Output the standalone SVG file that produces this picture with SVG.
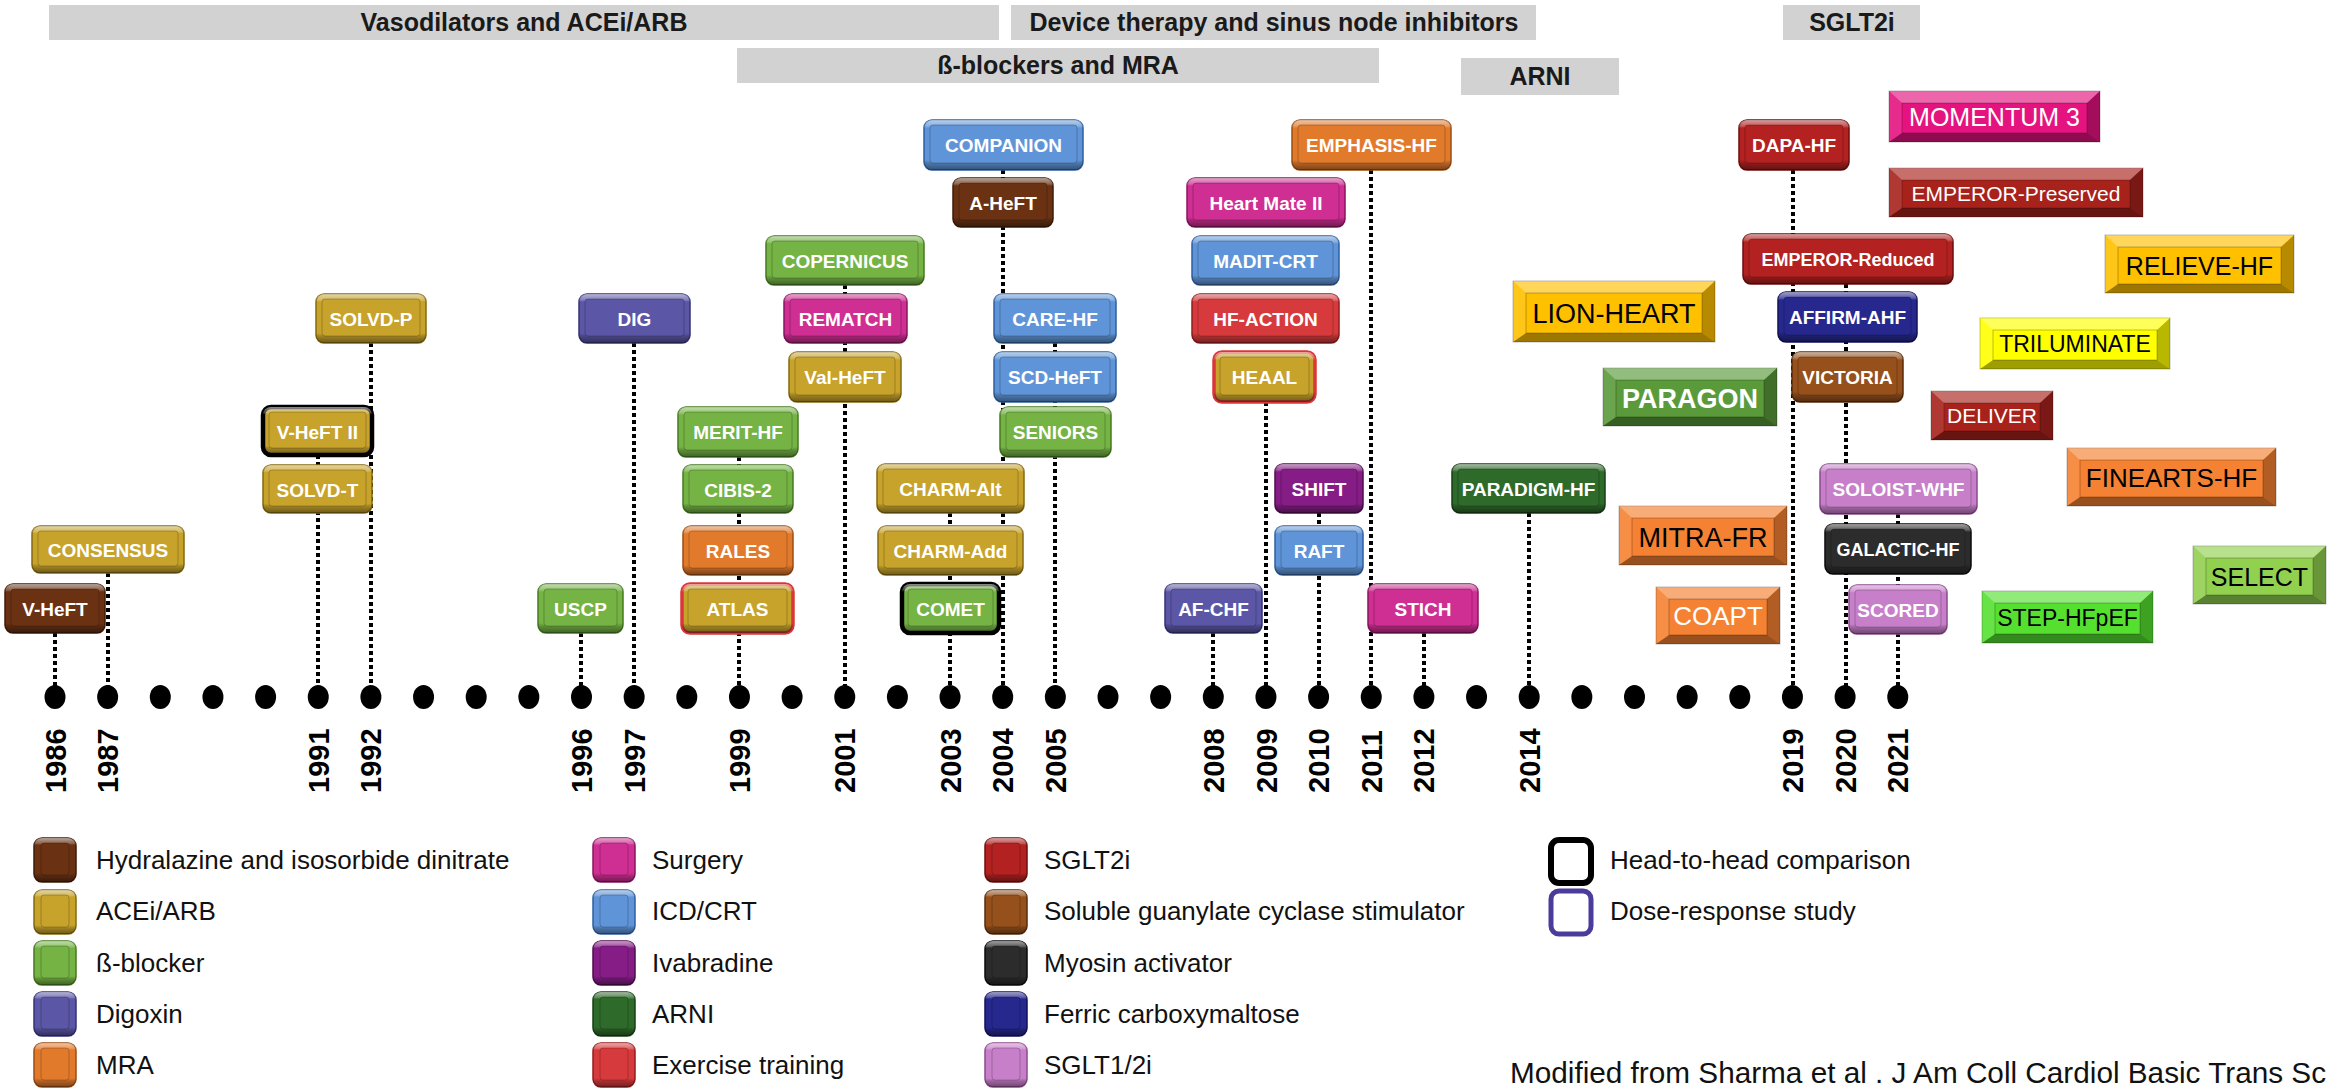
<svg xmlns="http://www.w3.org/2000/svg" xmlns:xlink="http://www.w3.org/1999/xlink" width="2330" height="1088" viewBox="0 0 2330 1088">
  <defs>
    <style>
      .hdr rect{fill:#d2d2d2}
      .hdr text{font:bold 25px "Liberation Sans",Arial,sans-serif;fill:#1a1a1a;text-anchor:middle}
      .conn line{stroke:#000;stroke-width:4;stroke-dasharray:4 3}
      .year{font:bold 29px "Liberation Sans",Arial,sans-serif;fill:#000}
      .hyd{--c:#6a3213;--d:#3f1c08}
      .ace{--c:#c7a32b;--d:#86690f}
      .bb{--c:#74b344;--d:#477a22}
      .dig{--c:#5b57a6;--d:#363279}
      .mra{--c:#e27a2c;--d:#9c4d12}
      .sur{--c:#cf2e93;--d:#8a1560}
      .icd{--c:#5f95d8;--d:#2f5f9e}
      .iva{--c:#861d86;--d:#4e0c4e}
      .arni{--c:#2e6a2a;--d:#173f15}
      .ex{--c:#d73a3c;--d:#951c1e}
      .sglt2{--c:#b32121;--d:#6e0e0e}
      .sgc{--c:#95501c;--d:#5a2d0b}
      .myo{--c:#2c2c2c;--d:#0a0a0a}
      .fcm{--c:#26288e;--d:#11125a}
      .sglt12{--c:#c77fc9;--d:#8b4b8d}
      .pill .o{fill:var(--c);stroke:var(--d);stroke-width:1.5}
      .pill .b{fill:url(#bev)}
      .pill .f{fill:var(--c);stroke:rgba(0,0,0,.22);stroke-width:1}
      .pill .o,.pill .b{rx:8px;ry:8px}
      .pill .f{rx:3px;ry:3px}
      .pill text{font:bold 19px "Liberation Sans",Arial,sans-serif;fill:#fff;text-anchor:middle}
      .pill.h2h .o{stroke:#000;stroke-width:4.5}
      .pill.rb .o{stroke:#d8383a;stroke-width:3.5}
      .sq .o{fill:var(--c);stroke:rgba(0,0,0,.25);stroke-width:1}
      .sq .t{fill:#fff;opacity:.35}
      .sq .l{fill:#fff;opacity:.1}
      .sq .r{fill:#000;opacity:.28}
      .sq .bt{fill:#000;opacity:.38}
      .sq .fc{fill:none;stroke:rgba(0,0,0,.25);stroke-width:1}
      .sq text{font:25px "Liberation Sans",Arial,sans-serif;fill:#000;text-anchor:middle}
      .sq.w text{fill:#fff}
      .lg text{font:26px "Liberation Sans",Arial,sans-serif;fill:#111}
      .cite{font:29px "Liberation Sans",Arial,sans-serif;fill:#111}
    </style>
    <linearGradient id="bev" x1="0" y1="0" x2="0" y2="1">
      <stop offset="0" stop-color="#fff" stop-opacity=".55"/>
      <stop offset=".12" stop-color="#fff" stop-opacity=".25"/>
      <stop offset=".16" stop-color="#fff" stop-opacity="0"/>
      <stop offset=".8" stop-color="#000" stop-opacity="0"/>
      <stop offset=".86" stop-color="#000" stop-opacity=".2"/>
      <stop offset="1" stop-color="#000" stop-opacity=".45"/>
    </linearGradient>
    <ellipse id="dot" cx="0" cy="697" rx="10.5" ry="12" fill="#000"/>
  </defs>

  <rect width="2330" height="1088" fill="#fff"/>

  <!-- therapy era bars -->
  <g id="eras" class="hdr">
    <rect x="49" y="5" width="950" height="35"/>
    <text x="524" y="31">Vasodilators and ACEi/ARB</text>
    <rect x="1011" y="5" width="525" height="35"/>
    <text x="1274" y="31">Device therapy and sinus node inhibitors</text>
    <rect x="737" y="48" width="642" height="35"/>
    <text x="1058" y="74">ß-blockers and MRA</text>
    <rect x="1461" y="58" width="158" height="37"/>
    <text x="1540" y="85">ARNI</text>
    <rect x="1783" y="5" width="137" height="35"/>
    <text x="1852" y="31">SGLT2i</text>
  </g>

  <!-- dotted year connectors -->
  <g id="connectors" class="conn">
    <line x1="55" y1="633" x2="55" y2="690"/>
    <line x1="108" y1="573" x2="108" y2="690"/>
    <line x1="318" y1="455" x2="318" y2="690"/>
    <line x1="371" y1="343" x2="371" y2="690"/>
    <line x1="581" y1="633" x2="581" y2="690"/>
    <line x1="634" y1="343" x2="634" y2="690"/>
    <line x1="739" y1="457" x2="739" y2="690"/>
    <line x1="845" y1="285" x2="845" y2="690"/>
    <line x1="950" y1="513" x2="950" y2="690"/>
    <line x1="1003" y1="170" x2="1003" y2="690"/>
    <line x1="1055" y1="343" x2="1055" y2="690"/>
    <line x1="1213" y1="633" x2="1213" y2="690"/>
    <line x1="1266" y1="402" x2="1266" y2="690"/>
    <line x1="1319" y1="513" x2="1319" y2="690"/>
    <line x1="1371" y1="170" x2="1371" y2="690"/>
    <line x1="1424" y1="633" x2="1424" y2="690"/>
    <line x1="1529" y1="513" x2="1529" y2="690"/>
    <line x1="1793" y1="170" x2="1793" y2="690"/>
    <line x1="1846" y1="284" x2="1846" y2="690"/>
    <line x1="1898" y1="514" x2="1898" y2="690"/>
  </g>

  <!-- timeline dots, one per year 1986-2021 -->
  <g id="timeline">
    <use href="#dot" x="55"/><use href="#dot" x="107.65"/><use href="#dot" x="160.3"/><use href="#dot" x="212.95"/>
    <use href="#dot" x="265.6"/><use href="#dot" x="318.25"/><use href="#dot" x="370.9"/><use href="#dot" x="423.55"/>
    <use href="#dot" x="476.2"/><use href="#dot" x="528.85"/><use href="#dot" x="581.5"/><use href="#dot" x="634.15"/>
    <use href="#dot" x="686.8"/><use href="#dot" x="739.45"/><use href="#dot" x="792.1"/><use href="#dot" x="844.75"/>
    <use href="#dot" x="897.4"/><use href="#dot" x="950.05"/><use href="#dot" x="1002.7"/><use href="#dot" x="1055.35"/>
    <use href="#dot" x="1108"/><use href="#dot" x="1160.65"/><use href="#dot" x="1213.3"/><use href="#dot" x="1265.95"/>
    <use href="#dot" x="1318.6"/><use href="#dot" x="1371.25"/><use href="#dot" x="1423.9"/><use href="#dot" x="1476.55"/>
    <use href="#dot" x="1529.2"/><use href="#dot" x="1581.85"/><use href="#dot" x="1634.5"/><use href="#dot" x="1687.15"/>
    <use href="#dot" x="1739.8"/><use href="#dot" x="1792.45"/><use href="#dot" x="1845.1"/><use href="#dot" x="1897.75"/>
  </g>

  <!-- year labels -->
  <g id="years" class="year">
    <text transform="translate(65.5,793) rotate(-90)">1986</text>
    <text transform="translate(118.2,793) rotate(-90)">1987</text>
    <text transform="translate(328.8,793) rotate(-90)">1991</text>
    <text transform="translate(381.4,793) rotate(-90)">1992</text>
    <text transform="translate(592,793) rotate(-90)">1996</text>
    <text transform="translate(644.7,793) rotate(-90)">1997</text>
    <text transform="translate(750,793) rotate(-90)">1999</text>
    <text transform="translate(855.3,793) rotate(-90)">2001</text>
    <text transform="translate(960.6,793) rotate(-90)">2003</text>
    <text transform="translate(1013.2,793) rotate(-90)">2004</text>
    <text transform="translate(1065.9,793) rotate(-90)">2005</text>
    <text transform="translate(1223.8,793) rotate(-90)">2008</text>
    <text transform="translate(1276.5,793) rotate(-90)">2009</text>
    <text transform="translate(1329.1,793) rotate(-90)">2010</text>
    <text transform="translate(1381.8,793) rotate(-90)">2011</text>
    <text transform="translate(1434.4,793) rotate(-90)">2012</text>
    <text transform="translate(1539.7,793) rotate(-90)">2014</text>
    <text transform="translate(1803,793) rotate(-90)">2019</text>
    <text transform="translate(1855.6,793) rotate(-90)">2020</text>
    <text transform="translate(1908.3,793) rotate(-90)">2021</text>
  </g>

  <!-- trial nodes: rounded bevel buttons -->
  <g id="n-vheft" class="pill hyd" transform="translate(5,584)"><rect class="o" width="100" height="49"/><rect class="b" width="100" height="49"/><rect class="f" x="6" y="5" width="88" height="37"/><text x="50" y="32">V-HeFT</text></g>
  <g id="n-consensus" class="pill ace" transform="translate(32,526)"><rect class="o" width="152" height="47"/><rect class="b" width="152" height="47"/><rect class="f" x="6" y="5" width="140" height="35"/><text x="76" y="31">CONSENSUS</text></g>
  <g id="n-vheft2" class="pill ace h2h" transform="translate(263,407)"><rect class="o" width="109" height="48"/><rect class="b" width="109" height="48"/><rect class="f" x="6" y="5" width="97" height="36"/><text x="54.5" y="31.5">V-HeFT II</text></g>
  <g id="n-solvdt" class="pill ace" transform="translate(263,465)"><rect class="o" width="109" height="48"/><rect class="b" width="109" height="48"/><rect class="f" x="6" y="5" width="97" height="36"/><text x="54.5" y="31.5">SOLVD-T</text></g>
  <g id="n-solvdp" class="pill ace" transform="translate(316,294)"><rect class="o" width="110" height="49"/><rect class="b" width="110" height="49"/><rect class="f" x="6" y="5" width="98" height="37"/><text x="55" y="32">SOLVD-P</text></g>
  <g id="n-uscp" class="pill bb" transform="translate(538,584)"><rect class="o" width="85" height="49"/><rect class="b" width="85" height="49"/><rect class="f" x="6" y="5" width="73" height="37"/><text x="42.5" y="32">USCP</text></g>
  <g id="n-dig" class="pill dig" transform="translate(579,294)"><rect class="o" width="111" height="49"/><rect class="b" width="111" height="49"/><rect class="f" x="6" y="5" width="99" height="37"/><text x="55.5" y="32">DIG</text></g>
  <g id="n-merit" class="pill bb" transform="translate(678,407)"><rect class="o" width="120" height="50"/><rect class="b" width="120" height="50"/><rect class="f" x="6" y="5" width="108" height="38"/><text x="60" y="32">MERIT-HF</text></g>
  <g id="n-cibis2" class="pill bb" transform="translate(683,465)"><rect class="o" width="110" height="48"/><rect class="b" width="110" height="48"/><rect class="f" x="6" y="5" width="98" height="36"/><text x="55" y="31.5">CIBIS-2</text></g>
  <g id="n-rales" class="pill mra" transform="translate(683,526)"><rect class="o" width="110" height="49"/><rect class="b" width="110" height="49"/><rect class="f" x="6" y="5" width="98" height="37"/><text x="55" y="32">RALES</text></g>
  <g id="n-atlas" class="pill ace rb" transform="translate(682,584)"><rect class="o" width="111" height="49"/><rect class="b" width="111" height="49"/><rect class="f" x="6" y="5" width="99" height="37"/><text x="55.5" y="32">ATLAS</text></g>
  <g id="n-copernicus" class="pill bb" transform="translate(766,236)"><rect class="o" width="158" height="49"/><rect class="b" width="158" height="49"/><rect class="f" x="6" y="5" width="146" height="37"/><text x="79" y="32">COPERNICUS</text></g>
  <g id="n-rematch" class="pill sur" transform="translate(784,294)"><rect class="o" width="123" height="49"/><rect class="b" width="123" height="49"/><rect class="f" x="6" y="5" width="111" height="37"/><text x="61.5" y="32">REMATCH</text></g>
  <g id="n-valheft" class="pill ace" transform="translate(789,352)"><rect class="o" width="112" height="50"/><rect class="b" width="112" height="50"/><rect class="f" x="6" y="5" width="100" height="38"/><text x="56" y="32">Val-HeFT</text></g>
  <g id="n-companion" class="pill icd" transform="translate(924,120)"><rect class="o" width="159" height="50"/><rect class="b" width="159" height="50"/><rect class="f" x="6" y="5" width="147" height="38"/><text x="79.5" y="32">COMPANION</text></g>
  <g id="n-aheft" class="pill hyd" transform="translate(953,178)"><rect class="o" width="100" height="49"/><rect class="b" width="100" height="49"/><rect class="f" x="6" y="5" width="88" height="37"/><text x="50" y="32">A-HeFT</text></g>
  <g id="n-carehf" class="pill icd" transform="translate(994,294)"><rect class="o" width="122" height="49"/><rect class="b" width="122" height="49"/><rect class="f" x="6" y="5" width="110" height="37"/><text x="61" y="32">CARE-HF</text></g>
  <g id="n-scdheft" class="pill icd" transform="translate(994,352)"><rect class="o" width="122" height="50"/><rect class="b" width="122" height="50"/><rect class="f" x="6" y="5" width="110" height="38"/><text x="61" y="32">SCD-HeFT</text></g>
  <g id="n-seniors" class="pill bb" transform="translate(1000,407)"><rect class="o" width="111" height="50"/><rect class="b" width="111" height="50"/><rect class="f" x="6" y="5" width="99" height="38"/><text x="55.5" y="32">SENIORS</text></g>
  <g id="n-charmalt" class="pill ace" transform="translate(877,464)"><rect class="o" width="147" height="49"/><rect class="b" width="147" height="49"/><rect class="f" x="6" y="5" width="135" height="37"/><text x="73.5" y="32">CHARM-Alt</text></g>
  <g id="n-charmadd" class="pill ace" transform="translate(878,526)"><rect class="o" width="145" height="49"/><rect class="b" width="145" height="49"/><rect class="f" x="6" y="5" width="133" height="37"/><text x="72.5" y="32">CHARM-Add</text></g>
  <g id="n-comet" class="pill bb h2h" transform="translate(902,584)"><rect class="o" width="97" height="49"/><rect class="b" width="97" height="49"/><rect class="f" x="6" y="5" width="85" height="37"/><text x="48.5" y="32">COMET</text></g>
  <g id="n-afchf" class="pill dig" transform="translate(1165,584)"><rect class="o" width="97" height="49"/><rect class="b" width="97" height="49"/><rect class="f" x="6" y="5" width="85" height="37"/><text x="48.5" y="32">AF-CHF</text></g>
  <g id="n-heartmate" class="pill sur" transform="translate(1187,178)"><rect class="o" width="158" height="49"/><rect class="b" width="158" height="49"/><rect class="f" x="6" y="5" width="146" height="37"/><text x="79" y="32">Heart Mate II</text></g>
  <g id="n-maditcrt" class="pill icd" transform="translate(1192,236)"><rect class="o" width="147" height="49"/><rect class="b" width="147" height="49"/><rect class="f" x="6" y="5" width="135" height="37"/><text x="73.5" y="32">MADIT-CRT</text></g>
  <g id="n-hfaction" class="pill ex" transform="translate(1192,294)"><rect class="o" width="147" height="49"/><rect class="b" width="147" height="49"/><rect class="f" x="6" y="5" width="135" height="37"/><text x="73.5" y="32">HF-ACTION</text></g>
  <g id="n-heaal" class="pill ace rb" transform="translate(1214,352)"><rect class="o" width="101" height="50"/><rect class="b" width="101" height="50"/><rect class="f" x="6" y="5" width="89" height="38"/><text x="50.5" y="32">HEAAL</text></g>
  <g id="n-emphasis" class="pill mra" transform="translate(1292,120)"><rect class="o" width="159" height="50"/><rect class="b" width="159" height="50"/><rect class="f" x="6" y="5" width="147" height="38"/><text x="79.5" y="32">EMPHASIS-HF</text></g>
  <g id="n-shift" class="pill iva" transform="translate(1275,464)"><rect class="o" width="88" height="49"/><rect class="b" width="88" height="49"/><rect class="f" x="6" y="5" width="76" height="37"/><text x="44" y="32">SHIFT</text></g>
  <g id="n-raft" class="pill icd" transform="translate(1275,526)"><rect class="o" width="88" height="49"/><rect class="b" width="88" height="49"/><rect class="f" x="6" y="5" width="76" height="37"/><text x="44" y="32">RAFT</text></g>
  <g id="n-stich" class="pill sur" transform="translate(1368,584)"><rect class="o" width="110" height="49"/><rect class="b" width="110" height="49"/><rect class="f" x="6" y="5" width="98" height="37"/><text x="55" y="32">STICH</text></g>
  <g id="n-paradigm" class="pill arni" transform="translate(1452,464)"><rect class="o" width="153" height="49"/><rect class="b" width="153" height="49"/><rect class="f" x="6" y="5" width="141" height="37"/><text x="76.5" y="32">PARADIGM-HF</text></g>
  <g id="n-dapahf" class="pill sglt2" transform="translate(1739,120)"><rect class="o" width="110" height="50"/><rect class="b" width="110" height="50"/><rect class="f" x="6" y="5" width="98" height="38"/><text x="55" y="32">DAPA-HF</text></g>
  <g id="n-emperor-r" class="pill sglt2" transform="translate(1743,234)"><rect class="o" width="210" height="50"/><rect class="b" width="210" height="50"/><rect class="f" x="6" y="5" width="198" height="38"/><text x="105" y="32" style="font-size:18px">EMPEROR-Reduced</text></g>
  <g id="n-affirm" class="pill fcm" transform="translate(1778,292)"><rect class="o" width="139" height="50"/><rect class="b" width="139" height="50"/><rect class="f" x="6" y="5" width="127" height="38"/><text x="69.5" y="32">AFFIRM-AHF</text></g>
  <g id="n-victoria" class="pill sgc" transform="translate(1792,352)"><rect class="o" width="111" height="50"/><rect class="b" width="111" height="50"/><rect class="f" x="6" y="5" width="99" height="38"/><text x="55.5" y="32">VICTORIA</text></g>
  <g id="n-soloist" class="pill sglt12" transform="translate(1820,464)"><rect class="o" width="157" height="50"/><rect class="b" width="157" height="50"/><rect class="f" x="6" y="5" width="145" height="38"/><text x="78.5" y="32">SOLOIST-WHF</text></g>
  <g id="n-galactic" class="pill myo" transform="translate(1825,524)"><rect class="o" width="146" height="50"/><rect class="b" width="146" height="50"/><rect class="f" x="6" y="5" width="134" height="38"/><text x="73" y="32" style="font-size:18px">GALACTIC-HF</text></g>
  <g id="n-scored" class="pill sglt12" transform="translate(1849,585)"><rect class="o" width="98" height="49"/><rect class="b" width="98" height="49"/><rect class="f" x="6" y="5" width="86" height="37"/><text x="49" y="32">SCORED</text></g>

  <!-- trial nodes: square bevel frames (top/left lit, right/bottom shaded) -->
  <g id="n-momentum3" class="sq w" style="--c:#e4137f" transform="translate(1889,91)"><rect class="o" width="211" height="51"/><path class="t" d="M0 0h211l-13 12H13z"/><path class="bt" d="M0 51l13-9H198l13 9z"/><path class="l" d="M0 0l13 12V42L0 51z"/><path class="r" d="M211 0v51l-13-9V12z"/><rect class="fc" x="13" y="12" width="185" height="30"/><text x="105.5" y="35">MOMENTUM 3</text></g>
  <g id="n-emperor-p" class="sq w" style="--c:#a8221c" transform="translate(1889,168)"><rect class="o" width="254" height="49"/><path class="t" d="M0 0h254l-13 12H13z"/><path class="bt" d="M0 49l13-9H241l13 9z"/><path class="l" d="M0 0l13 12V40L0 49z"/><path class="r" d="M254 0v49l-13-9V12z"/><rect class="fc" x="13" y="12" width="228" height="28"/><text x="127" y="33" style="font-size:21px">EMPEROR-Preserved</text></g>
  <g id="n-relieve" class="sq" style="--c:#ffc000" transform="translate(2105,235)"><rect class="o" width="189" height="58"/><path class="t" d="M0 0h189l-13 12H13z"/><path class="bt" d="M0 58l13-9H176l13 9z"/><path class="l" d="M0 0l13 12V49L0 58z"/><path class="r" d="M189 0v58l-13-9V12z"/><rect class="fc" x="13" y="12" width="163" height="37"/><text x="94.5" y="40">RELIEVE-HF</text></g>
  <g id="n-lionheart" class="sq" style="--c:#ffc000" transform="translate(1513,281)"><rect class="o" width="202" height="61"/><path class="t" d="M0 0h202l-13 12H13z"/><path class="bt" d="M0 61l13-9H189l13 9z"/><path class="l" d="M0 0l13 12V52L0 61z"/><path class="r" d="M202 0v61l-13-9V12z"/><rect class="fc" x="13" y="12" width="176" height="40"/><text x="101" y="42" style="font-size:27px">LION-HEART</text></g>
  <g id="n-triluminate" class="sq" style="--c:#ffff00" transform="translate(1980,318)"><rect class="o" width="190" height="51"/><path class="t" d="M0 0h190l-13 12H13z"/><path class="bt" d="M0 51l13-9H177l13 9z"/><path class="l" d="M0 0l13 12V42L0 51z"/><path class="r" d="M190 0v51l-13-9V12z"/><rect class="fc" x="13" y="12" width="164" height="30"/><text x="95" y="34" style="font-size:23px">TRILUMINATE</text></g>
  <g id="n-paragon" class="sq w" style="--c:#5a9a3a" transform="translate(1603,368)"><rect class="o" width="174" height="58"/><path class="t" d="M0 0h174l-13 12H13z"/><path class="bt" d="M0 58l13-9H161l13 9z"/><path class="l" d="M0 0l13 12V49L0 58z"/><path class="r" d="M174 0v58l-13-9V12z"/><rect class="fc" x="13" y="12" width="148" height="37"/><text x="87" y="40" style="font-size:27px;font-weight:bold">PARAGON</text></g>
  <g id="n-deliver" class="sq w" style="--c:#a8221c" transform="translate(1931,391)"><rect class="o" width="122" height="49"/><path class="t" d="M0 0h122l-13 12H13z"/><path class="bt" d="M0 49l13-9H109l13 9z"/><path class="l" d="M0 0l13 12V40L0 49z"/><path class="r" d="M122 0v49l-13-9V12z"/><rect class="fc" x="13" y="12" width="96" height="28"/><text x="61" y="32" style="font-size:21px">DELIVER</text></g>
  <g id="n-finearts" class="sq" style="--c:#f58232" transform="translate(2067,448)"><rect class="o" width="209" height="58"/><path class="t" d="M0 0h209l-13 12H13z"/><path class="bt" d="M0 58l13-9H196l13 9z"/><path class="l" d="M0 0l13 12V49L0 58z"/><path class="r" d="M209 0v58l-13-9V12z"/><rect class="fc" x="13" y="12" width="183" height="37"/><text x="104.5" y="39" style="font-size:26px">FINEARTS-HF</text></g>
  <g id="n-mitrafr" class="sq" style="--c:#f58232" transform="translate(1619,506)"><rect class="o" width="168" height="59"/><path class="t" d="M0 0h168l-13 12H13z"/><path class="bt" d="M0 59l13-9H155l13 9z"/><path class="l" d="M0 0l13 12V50L0 59z"/><path class="r" d="M168 0v59l-13-9V12z"/><rect class="fc" x="13" y="12" width="142" height="38"/><text x="84" y="41" style="font-size:27px">MITRA-FR</text></g>
  <g id="n-coapt" class="sq w" style="--c:#f58232" transform="translate(1656,587)"><rect class="o" width="124" height="57"/><path class="t" d="M0 0h124l-13 12H13z"/><path class="bt" d="M0 57l13-9H111l13 9z"/><path class="l" d="M0 0l13 12V48L0 57z"/><path class="r" d="M124 0v57l-13-9V12z"/><rect class="fc" x="13" y="12" width="98" height="36"/><text x="62" y="38" style="font-size:26px">COAPT</text></g>
  <g id="n-select" class="sq" style="--c:#92d050" transform="translate(2193,546)"><rect class="o" width="133" height="58"/><path class="t" d="M0 0h133l-13 12H13z"/><path class="bt" d="M0 58l13-9H120l13 9z"/><path class="l" d="M0 0l13 12V49L0 58z"/><path class="r" d="M133 0v58l-13-9V12z"/><rect class="fc" x="13" y="12" width="107" height="37"/><text x="66.5" y="40">SELECT</text></g>
  <g id="n-stephfpef" class="sq" style="--c:#55e030" transform="translate(1982,591)"><rect class="o" width="171" height="52"/><path class="t" d="M0 0h171l-13 12H13z"/><path class="bt" d="M0 52l13-9H158l13 9z"/><path class="l" d="M0 0l13 12V43L0 52z"/><path class="r" d="M171 0v52l-13-9V12z"/><rect class="fc" x="13" y="12" width="145" height="31"/><text x="85.5" y="35" style="font-size:23px">STEP-HFpEF</text></g>

  <!-- legend -->
  <g id="legend" class="lg">
    <g class="pill hyd" transform="translate(34,838)"><rect class="o" width="42" height="44"/><rect class="b" width="42" height="44"/><rect class="f" x="7" y="5" width="28" height="32"/></g>
    <text x="96" y="869">Hydralazine and isosorbide dinitrate</text>
    <g class="pill ace" transform="translate(34,890)"><rect class="o" width="42" height="44"/><rect class="b" width="42" height="44"/><rect class="f" x="7" y="5" width="28" height="32"/></g>
    <text x="96" y="920">ACEi/ARB</text>
    <g class="pill bb" transform="translate(34,941)"><rect class="o" width="42" height="44"/><rect class="b" width="42" height="44"/><rect class="f" x="7" y="5" width="28" height="32"/></g>
    <text x="96" y="972">ß-blocker</text>
    <g class="pill dig" transform="translate(34,992)"><rect class="o" width="42" height="44"/><rect class="b" width="42" height="44"/><rect class="f" x="7" y="5" width="28" height="32"/></g>
    <text x="96" y="1023">Digoxin</text>
    <g class="pill mra" transform="translate(34,1043)"><rect class="o" width="42" height="44"/><rect class="b" width="42" height="44"/><rect class="f" x="7" y="5" width="28" height="32"/></g>
    <text x="96" y="1074">MRA</text>

    <g class="pill sur" transform="translate(593,838)"><rect class="o" width="42" height="44"/><rect class="b" width="42" height="44"/><rect class="f" x="7" y="5" width="28" height="32"/></g>
    <text x="652" y="869">Surgery</text>
    <g class="pill icd" transform="translate(593,890)"><rect class="o" width="42" height="44"/><rect class="b" width="42" height="44"/><rect class="f" x="7" y="5" width="28" height="32"/></g>
    <text x="652" y="920">ICD/CRT</text>
    <g class="pill iva" transform="translate(593,941)"><rect class="o" width="42" height="44"/><rect class="b" width="42" height="44"/><rect class="f" x="7" y="5" width="28" height="32"/></g>
    <text x="652" y="972">Ivabradine</text>
    <g class="pill arni" transform="translate(593,992)"><rect class="o" width="42" height="44"/><rect class="b" width="42" height="44"/><rect class="f" x="7" y="5" width="28" height="32"/></g>
    <text x="652" y="1023">ARNI</text>
    <g class="pill ex" transform="translate(593,1043)"><rect class="o" width="42" height="44"/><rect class="b" width="42" height="44"/><rect class="f" x="7" y="5" width="28" height="32"/></g>
    <text x="652" y="1074">Exercise training</text>

    <g class="pill sglt2" transform="translate(985,838)"><rect class="o" width="42" height="44"/><rect class="b" width="42" height="44"/><rect class="f" x="7" y="5" width="28" height="32"/></g>
    <text x="1044" y="869">SGLT2i</text>
    <g class="pill sgc" transform="translate(985,890)"><rect class="o" width="42" height="44"/><rect class="b" width="42" height="44"/><rect class="f" x="7" y="5" width="28" height="32"/></g>
    <text x="1044" y="920">Soluble guanylate cyclase stimulator</text>
    <g class="pill myo" transform="translate(985,941)"><rect class="o" width="42" height="44"/><rect class="b" width="42" height="44"/><rect class="f" x="7" y="5" width="28" height="32"/></g>
    <text x="1044" y="972">Myosin activator</text>
    <g class="pill fcm" transform="translate(985,992)"><rect class="o" width="42" height="44"/><rect class="b" width="42" height="44"/><rect class="f" x="7" y="5" width="28" height="32"/></g>
    <text x="1044" y="1023">Ferric carboxymaltose</text>
    <g class="pill sglt12" transform="translate(985,1043)"><rect class="o" width="42" height="44"/><rect class="b" width="42" height="44"/><rect class="f" x="7" y="5" width="28" height="32"/></g>
    <text x="1044" y="1074">SGLT1/2i</text>

    <rect x="1551" y="840" width="40" height="43" rx="8" fill="#fff" stroke="#000" stroke-width="6"/>
    <text x="1610" y="869">Head-to-head comparison</text>
    <rect x="1551" y="891" width="40" height="43" rx="8" fill="#fff" stroke="#4b3c9b" stroke-width="5"/>
    <text x="1610" y="920">Dose-response study</text>
  </g>

  <text class="cite" x="1510" y="1083" textLength="816" lengthAdjust="spacingAndGlyphs">Modified from Sharma et al . J Am Coll Cardiol Basic Trans Sc</text>
</svg>
